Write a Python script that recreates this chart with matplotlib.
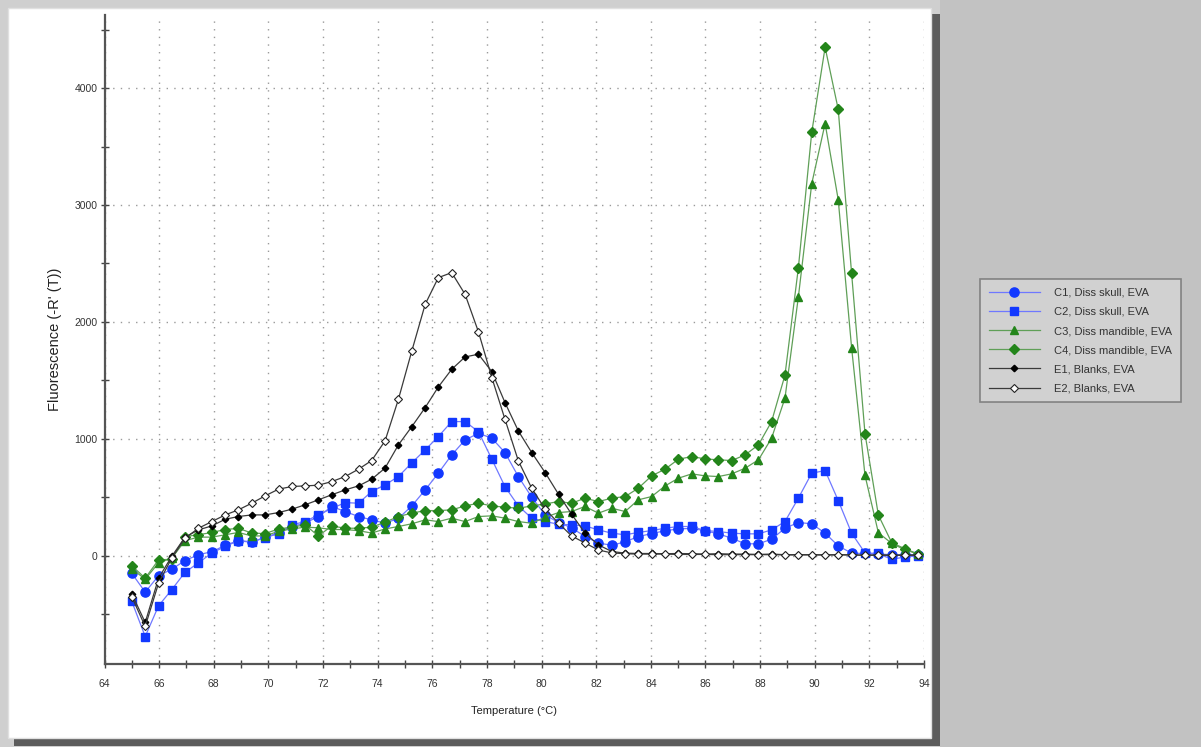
import matplotlib
matplotlib.use("Agg")
import matplotlib.pyplot as plt
from matplotlib.patches import Rectangle
from matplotlib.lines import Line2D
from matplotlib.ticker import MultipleLocator

plt.rcParams['font.family'] = ['Liberation Sans', 'DejaVu Sans']

temperature = [65.00, 65.49, 65.98, 66.46, 66.95, 67.44, 67.93, 68.42, 68.90, 69.39,
               69.88, 70.37, 70.86, 71.34, 71.83, 72.32, 72.81, 73.30, 73.78, 74.27,
               74.76, 75.25, 75.74, 76.22, 76.71, 77.20, 77.69, 78.18, 78.66, 79.15,
               79.64, 80.13, 80.62, 81.10, 81.59, 82.08, 82.57, 83.06, 83.54, 84.03,
               84.52, 85.01, 85.50, 85.98, 86.47, 86.96, 87.45, 87.94, 88.42, 88.91,
               89.40, 89.89, 90.38, 90.86, 91.35, 91.84, 92.33, 92.82, 93.30, 93.79]

c1 = [-150, -310, -170, -115, -40, 10, 35, 90, 130, 115,
      160, 195, 250, 280, 336, 422, 379, 336, 308, 279,
      320, 427, 564, 707, 863, 991, 1048, 1006, 883, 678,
      501, 350, 285, 240, 165, 110, 90, 120, 165, 190,
      215, 230, 235, 215, 188, 151, 103, 103, 142, 236,
      285, 274, 194, 85, 23, 20, 15, 10, 10, 10]

c2 = [-390, -690, -427, -290, -140, -60, 25, 80, 130, 120,
      155, 190, 265, 293, 350, 405, 455, 450, 550, 607,
      678, 795, 906, 1020, 1148, 1148, 1062, 826, 592, 427,
      322, 293, 270, 265, 256, 222, 194, 180, 200, 216,
      236, 251, 251, 216, 208, 194, 188, 188, 222, 293,
      493, 707, 729, 473, 194, 25, 20, -30, -10, 0]

c3 = [-110, -200, -60, -20, 130, 160, 160, 180, 200, 170,
      170, 210, 230, 245, 240, 225, 225, 215, 195, 230,
      251, 274, 308, 293, 322, 293, 336, 342, 322, 293,
      279, 330, 370, 379, 422, 365, 407, 379, 479, 507,
      598, 664, 701, 684, 678, 701, 749, 821, 1006, 1348,
      2212, 3182, 3697, 3045, 1779, 688, 197, 106, 52, 15]

c4 = [-85, -191, -34, -30, 165, 180, 200, 225, 235, 195,
      190, 230, 245, 265, 170, 256, 236, 236, 245, 288,
      336, 365, 387, 387, 393, 427, 450, 427, 416, 407,
      427, 444, 464, 450, 493, 464, 493, 507, 578, 684,
      741, 826, 849, 829, 821, 815, 863, 949, 1148, 1545,
      2461, 3621, 4348, 3818, 2415, 1045, 348, 112, 61, 15]

e1 = [-325, -570, -191, -5, 160, 222, 256, 313, 336, 350,
      350, 370, 399, 436, 479, 522, 564, 598, 655, 750,
      949, 1105, 1268, 1444, 1595, 1701, 1724, 1575, 1311, 1068,
      883, 712, 527, 356, 194, 94, 37, 23, 20, 20,
      18, 20, 18, 15, 18, 15, 15, 12, 15, 10,
      10, 10, 8, 10, 8, 5, 8, 5, 5, 8]

e2 = [-350, -604, -233, -20, 151, 236, 293, 350, 393, 450,
      513, 570, 593, 598, 604, 635, 678, 741, 815, 983,
      1339, 1752, 2151, 2379, 2422, 2236, 1915, 1524, 1168, 812,
      578, 400, 280, 170, 110, 50, 25, 18, 15, 15,
      15, 12, 12, 12, 10, 10, 10, 10, 10, 8,
      8, 8, 8, 8, 8, 5, 5, 5, 5, 5]

labels = ["C1, Diss skull, EVA", "C2, Diss skull, EVA",
          "C3, Diss mandible, EVA", "C4, Diss mandible, EVA",
          "E1, Blanks, EVA", "E2, Blanks, EVA"]

W, H = 1201, 747
fig = plt.figure(figsize=(W / 100, H / 100), dpi=100, facecolor='#c2c2c2')

def fx(px):
    return px / W

def fy(py):
    return 1 - py / H

# light border top-left
fig.patches.append(Rectangle((0, fy(747)), fx(940), 1, transform=fig.transFigure,
                             fc='#cfcfcf', ec='none', zorder=-3))
# shadow
fig.patches.append(Rectangle((fx(14), fy(746)), fx(940 - 14), (746 - 14) / H,
                             transform=fig.transFigure, fc='#5c5c5c', ec='none', zorder=-2))
# white panel
fig.patches.append(Rectangle((fx(8), fy(738)), fx(931 - 8), (738 - 8) / H,
                             transform=fig.transFigure, fc='white', ec='#e0e0e0', lw=1, zorder=-1))

ax = fig.add_axes([fx(104.5), fy(664), fx(924 - 104.5), (664 - 15) / H])
ax.set_facecolor('white')

blue_m, blue_l = '#1238ff', '#6f78ff'
green_m, green_l = '#23851a', '#5f9f57'

series = [
    (c1, dict(marker='o', ms=6.6, mfc=blue_m, mec=blue_m, color=blue_l)),
    (c2, dict(marker='s', ms=6.3, mfc=blue_m, mec=blue_m, color=blue_l)),
    (c3, dict(marker='^', ms=6.3, mfc=green_m, mec=green_m, color=green_l)),
    (c4, dict(marker='D', ms=5.6, mfc=green_m, mec=green_m, color=green_l)),
    (e1, dict(marker='D', ms=3.3, mfc='black', mec='black', color='#3a3a3a')),
    (e2, dict(marker='D', ms=3.8, mfc='white', mec='#222222', mew=0.8, color='#3a3a3a')),
]
handles = []
for (vals, kw), lab in zip(series, labels):
    ax.plot(temperature, vals, lw=0.9, label=lab, **kw)
    handles.append(Line2D([], [], lw=0.9, **kw))

ax.set_xlim(64, 94)
ax.set_ylim(-925, 4625)
ax.xaxis.set_major_locator(MultipleLocator(2))
ax.xaxis.set_minor_locator(MultipleLocator(1))
ax.yaxis.set_major_locator(MultipleLocator(1000))
ax.yaxis.set_minor_locator(MultipleLocator(500))

for s in ['top', 'right']:
    ax.spines[s].set_visible(False)
for s in ['left', 'bottom']:
    ax.spines[s].set_color('#555555')
    ax.spines[s].set_linewidth(1.6)

ax.tick_params(which='both', direction='inout', color='#444444', width=1.0)
ax.tick_params(which='major', length=6, labelsize=7.5, labelcolor='#333333')
ax.tick_params(axis='x', which='major', pad=8)
ax.tick_params(axis='y', which='major', pad=2)
ax.tick_params(which='minor', length=6)

ax.grid(True, which='major', linestyle=(0, (1, 4.5)), color='#9a9a9a', lw=1.0)
ax.set_axisbelow(True)

ax.set_xlabel('Temperature (°C)', fontsize=8, color='#222222', labelpad=12)
ax.set_ylabel("Fluorescence (-R' (T))", fontsize=10.5, color='#222222', labelpad=9)

leg = fig.legend(handles, labels, loc='upper left',
                 bbox_to_anchor=(fx(980), fy(279)), fontsize=8,
                 frameon=True, fancybox=False, facecolor='#d6d6d6', edgecolor='#707070',
                 handlelength=4.6, handletextpad=1.3, borderpad=0.8, labelspacing=0.82,
                 borderaxespad=0)
leg.get_frame().set_linewidth(1.2)
for t in leg.get_texts():
    t.set_color('#333333')

fig.savefig('out.png', dpi=100, facecolor=fig.get_facecolor())
